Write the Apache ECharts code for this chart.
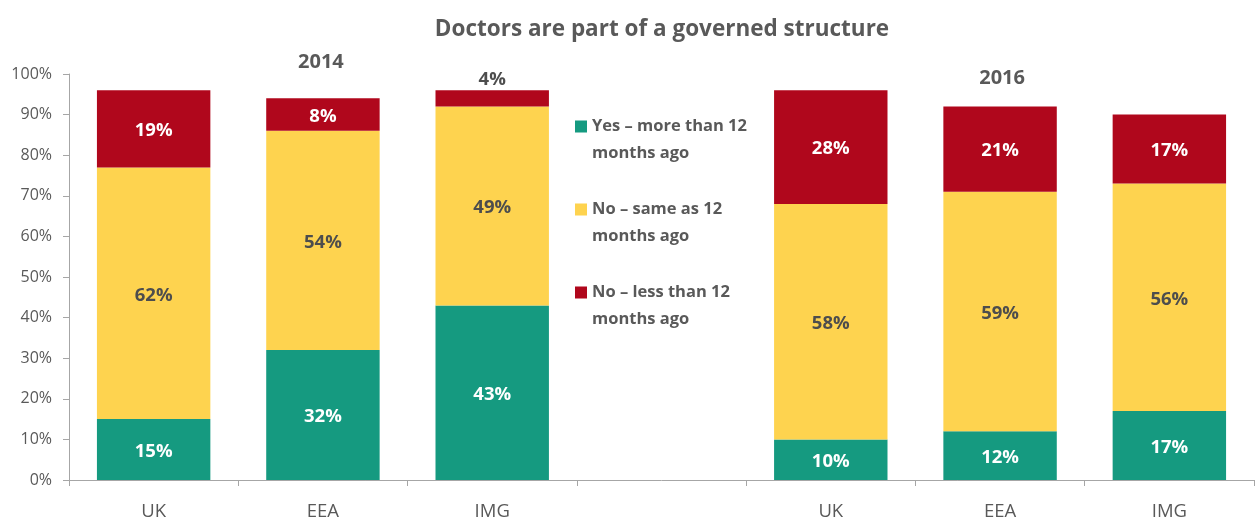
<!DOCTYPE html>
<html>
<head>
<meta charset="utf-8">
<script src="https://cdn.jsdelivr.net/npm/echarts@6/dist/echarts.min.js"></script>
<style>
  html, body { margin: 0; padding: 0; background: #fff; }
  #chart { width: 1256px; height: 521px; }
</style>
</head>
<body>
<div id="chart"></div>
<script>
// Categories: two survey years side by side, with an empty slot between them
const categories = ['UK', 'EEA', 'IMG', '', 'UK', 'EEA', 'IMG'];
const seriesNames = [
  'Yes – more than 12\nmonths ago',
  'No – same as 12\nmonths ago',
  'No – less than 12\nmonths ago'
];
const yesMore  = [15, 32, 43, null, 10, 12, 17];
const noSame   = [62, 54, 49, null, 58, 59, 56];
const noLess   = [19, 8, 4, null, 28, 21, 17];
const yearLabels = ['2014', '2016'];
const yearCategoryIndex = [1, 5];
const yTicks = [0, 10, 20, 30, 40, 50, 60, 70, 80, 90, 100];

const GREEN = '#159a80';
const YELLOW = '#fed34f';
const RED = '#b0071c';
const GREY = '#595959';
const DARK = '#4d4d4d';
const FONT = 'Open Sans';

const chart = echarts.init(document.getElementById('chart'), null, { renderer: 'canvas' });

function segment(name, data, color, labelColor) {
  return {
    name: name,
    type: 'bar',
    stack: 'total',
    barCategoryGap: '33%',
    itemStyle: { color: color },
    label: {
      show: true,
      position: 'inside',
      offset: [0, 2],
      formatter: '{c}%',
      color: labelColor,
      fontFamily: FONT,
      fontWeight: 'bold',
      fontSize: 18.5
    },
    data: data.map(function (v) { return v == null ? '-' : v; })
  };
}

const redSeries = segment(seriesNames[2], noLess, RED, '#fff');
// The thin 4% segment carries its label above the bar
redSeries.data = noLess.map(function (v) {
  if (v == null) return '-';
  if (v < 6) {
    return { value: v, label: { position: 'top', color: DARK, distance: 1, offset: [0, 0] } };
  }
  return v;
});

// Legend swatch sits level with the first line of its two-line label
const legendIcon = 'path://M0,0L12,0L12,12L0,12Z M0,39L0.01,39';

chart.setOption({
  animation: false,
  textStyle: { fontFamily: FONT },
  title: {
    text: 'Doctors are part of a governed structure',
    left: 657,
    top: 13,
    textAlign: 'center',
    textStyle: { fontFamily: FONT, fontSize: 22.5, fontWeight: 'bold', color: GREY }
  },
  grid: { left: 69, right: 2, top: 74, bottom: 39, containLabel: false },
  legend: {
    orient: 'vertical',
    left: 570,
    top: 108,
    itemWidth: 12,
    itemHeight: 39,
    itemGap: 29,
    icon: legendIcon,
    data: seriesNames,
    textStyle: {
      fontFamily: FONT,
      fontSize: 16.5,
      fontWeight: 'bold',
      color: GREY,
      lineHeight: 27
    }
  },
  xAxis: {
    type: 'category',
    data: categories,
    axisLine: { lineStyle: { color: '#a6a6a6' } },
    axisTick: { show: true, length: 6, lineStyle: { color: '#a6a6a6' } },
    axisLabel: { color: GREY, fontFamily: FONT, fontSize: 18.5, margin: 22 }
  },
  yAxis: {
    type: 'value',
    min: 0,
    max: 100,
    interval: 10,
    splitLine: { show: false },
    axisLine: { show: true, lineStyle: { color: '#a6a6a6' } },
    axisTick: { show: true, length: 6, lineStyle: { color: '#a6a6a6' } },
    axisLabel: {
      color: GREY,
      fontFamily: FONT,
      fontSize: 16,
      margin: 17,
      formatter: function (v) { return yTicks.indexOf(v) >= 0 ? v + '%' : ''; }
    }
  },
  series: [
    segment(seriesNames[0], yesMore, GREEN, '#fff'),
    segment(seriesNames[1], noSame, YELLOW, DARK),
    redSeries
  ]
});

// Year headings above each group, placed over the group's middle category
const yearOffsets = [-12, 4];
const yearShift = [-2, 2];
chart.setOption({
  graphic: yearLabels.map(function (txt, i) {
    const x = chart.convertToPixel({ xAxisIndex: 0 }, yearCategoryIndex[i]);
    const yTop = chart.convertToPixel({ yAxisIndex: 0 }, 100);
    return {
      type: 'text',
      x: x + yearShift[i],
      y: yTop + yearOffsets[i],
      style: {
        text: txt,
        fill: GREY,
        font: 'bold 20px "Open Sans"',
        textAlign: 'center',
        textVerticalAlign: 'middle'
      }
    };
  })
});
</script>
</body>
</html>
